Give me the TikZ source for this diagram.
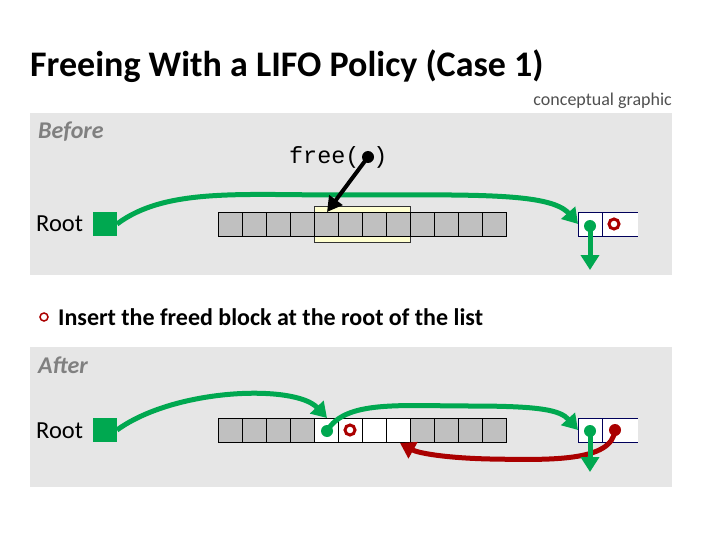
\documentclass[tikz,border=0pt]{standalone}
\usepackage{fontspec}
\setmainfont{Carlito}
\setmonofont{Liberation Mono}
\usetikzlibrary{arrows.meta}
\definecolor{panelgray}{RGB}{230,230,230}
\definecolor{cellgray}{RGB}{192,192,192}
\definecolor{lgreen}{RGB}{0,168,80}
\definecolor{dred}{RGB}{170,0,0}
\definecolor{navyline}{RGB}{0,0,90}
\definecolor{pyellow}{RGB}{255,255,208}
\definecolor{labelgray}{RGB}{128,128,128}
\definecolor{notegray}{RGB}{80,80,80}
\tikzset{
  panel/.style={fill=panelgray, draw=none},
  cell/.style={draw=black, line width=0.8pt, minimum width=24pt, minimum height=24pt, inner sep=0pt, outer sep=0pt, fill=cellgray},
  wcell/.style={cell, fill=white},
  rcell/.style={draw=navyline, line width=0.8pt, minimum width=24pt, minimum height=24pt, inner sep=0pt, outer sep=0pt, fill=white},
  rootsq/.style={fill=lgreen, minimum width=24pt, minimum height=24pt, inner sep=0pt, outer sep=0pt},
  garrow/.style={draw=lgreen, line width=5pt, -{Triangle[length=15pt,width=18pt]}},
  rarrow/.style={draw=dred, line width=5pt, -{Triangle[length=15pt,width=18pt]}},
  karrow/.style={draw=black, line width=4pt, -{Triangle[length=15pt,width=16pt]}},
  sectlabel/.style={anchor=base west, inner sep=0pt, text=labelgray, font=\fontsize{24}{28}\selectfont\bfseries\itshape},
  rootlabel/.style={anchor=base west, inner sep=0pt, font=\fontsize{24.5}{28}\selectfont},
  gdot/.style={circle, fill=lgreen, minimum size=12pt, inner sep=0pt},
  rdot/.style={circle, fill=dred, minimum size=12pt, inner sep=0pt},
  kdot/.style={circle, fill=black, minimum size=12pt, inner sep=0pt},
  rring/.style={circle, draw=dred, line width=3pt, minimum size=10pt, inner sep=0pt}
}
\begin{document}
\begin{tikzpicture}[x=1pt,y=-1pt]
\useasboundingbox (0,0) rectangle (720,540);
\fill[white] (0,0) rectangle (720,540);

% title
\node[anchor=base west, inner sep=0pt, font=\fontsize{36}{42}\selectfont\bfseries] (title) at (30,77) {Freeing With a LIFO Policy (Case 1)};
\node[anchor=base east, inner sep=0pt, text=notegray, font=\fontsize{18}{21}\selectfont] (note) at (672,106) {conceptual graphic};

% ---------------- Before panel
\fill[panel] (30,113) rectangle (672,275);
\node[sectlabel] (before) at (38,139) {Before};
\node[anchor=base west, inner sep=0pt, font=\fontsize{23.4}{27}\selectfont\ttfamily] (freetxt) at (289,164) {free(\hphantom{x})};

\node[rootlabel] (rootA) at (36,232) {Root};
\node[rootsq] (sqA) at (105,224) {};

% yellow highlight of freed block
\filldraw[fill=pyellow, draw=black!80, line width=0.8pt] (314,206) rectangle (410,242);
\foreach \i in {1,...,12} {
  \node[cell] (a\i) at ({218+24*\i-12},224) {};
}
% right block
\node[rcell] (ra1) at (590,224) {};
\node[rcell] (ra2) at (614,224) {};
\fill[white] (626,212) rectangle (638,236);
\draw[navyline, line width=0.8pt] (626,212) -- (638,212) (626,236) -- (638,236);

\draw[garrow] (sqA.east) .. controls (165,188) and (240,195) .. (340,195)
  .. controls (470,195) and (550,192) .. (ra1.west);
\node[gdot] (gdA) at (590,226) {};
\coordinate (gdAend) at (590,270);
\draw[garrow] (gdA.center) -- (gdAend);
\node[rring] (rrA) at (614,224) {};

\node[kdot] (kd) at (368,157) {};
\coordinate (kdend) at (327,212);
\draw[karrow] (kd.center) -- (kdend);

% bullet text
\node[circle, draw=dred, line width=1.5pt, minimum size=8pt, inner sep=0pt] (bul) at (44,317) {};
\node[anchor=base west, inner sep=0pt, font=\fontsize{24}{28}\selectfont\bfseries] (bultxt) at (58,325) {Insert the freed block at the root of the list};

% ---------------- After panel
\fill[panel] (30,347) rectangle (672,487);
\node[sectlabel] (after) at (38,373) {After};
\node[rootlabel] (rootB) at (36,438) {Root};
\node[rootsq] (sqB) at (105,430) {};

\foreach \i in {1,...,4,9,10,11,12} {
  \node[cell] (b\i) at ({218+24*\i-12},430) {};
}
\foreach \i in {5,...,8} {
  \node[wcell] (b\i) at ({218+24*\i-12},430) {};
}
\node[rcell] (rb1) at (590,430) {};
\node[rcell] (rb2) at (614,430) {};
\fill[white] (626,418) rectangle (638,442);
\draw[navyline, line width=0.8pt] (626,418) -- (638,418) (626,442) -- (638,442);

\node[gdot] (gdB1) at (327,431) {};
\node[rring] (rrB) at (350,430) {};
\node[rdot] (rdB) at (615,430) {};
\node[gdot] (gdB2) at (590,431) {};

\coordinate (b8bot) at (400,443);
\draw[rarrow] (rdB.center) .. controls (612,462) and (550,460) .. (490,459)
  .. controls (445,458) and (418,453) .. (b8bot);
\coordinate (gdBend) at (590,472);
\draw[garrow] (gdB2.center) -- (gdBend);

\coordinate (b5top) at (327,418);
\draw[garrow] (sqB.east) .. controls (175,388) and (295,384) .. (b5top);
\draw[garrow] (gdB1.center) .. controls (345,400) and (400,406) .. (470,406)
  .. controls (540,406) and (560,410) .. (rb1.west);
\end{tikzpicture}
\end{document}
